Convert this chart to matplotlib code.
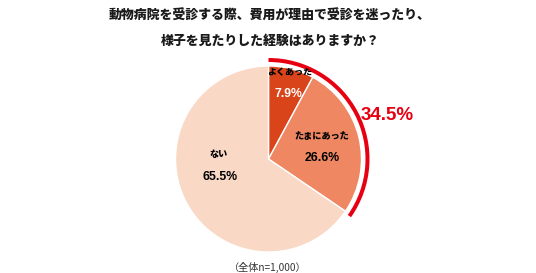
import matplotlib
matplotlib.use("Agg")
import matplotlib.pyplot as plt
from matplotlib.patches import Wedge

categories = ["よくあった", "たまにあった", "ない"]
values = [7.9, 26.6, 65.5]
value_labels = ["7.9%", "26.6%", "65.5%"]
colors = ["#D9441A", "#EE8762", "#FAD8C6"]
highlight_total = 34.5
highlight_label = "34.5%"
title_lines = ["動物病院を受診する際、費用が理由で受診を迷ったり、", "様子を見たりした経験はありますか？"]
footnote = "（全体n=1,000）"

W, H = 536, 273
fig = plt.figure(figsize=(W / 100, H / 100), dpi=100)
ax = fig.add_axes([0, 0, 1, 1])

cx, cy, r = 268.5, H - 159, 93
ax.pie(values, colors=colors, startangle=90, counterclock=False, center=(cx, cy), radius=r,
       wedgeprops=dict(edgecolor="white", linewidth=1.0))
ax.set_xlim(0, W)
ax.set_ylim(0, H)
ax.set_aspect("equal")
ax.axis("off")

# highlight arc
ang = highlight_total / 100 * 360
arc = Wedge((cx, cy), 101, 90 - ang - 1.0, 90, width=4, facecolor="#E60012", edgecolor="none")
ax.add_patch(arc)

jp = ["Noto Sans CJK JP", "DejaVu Sans"]
num = ["Liberation Sans", "DejaVu Sans"]

def px(y):
    return H - y

ax.text(290, px(73), categories[0], ha="center", va="center", family=jp, fontsize=6.5, fontweight="heavy", color="black")
ax.text(288, px(94), value_labels[0], ha="center", va="center", family=num, fontsize=8.8, fontweight="bold", color="white")
ax.text(322, px(137), categories[1], ha="center", va="center", family=jp, fontsize=6.6, fontweight="heavy", color="black")
ax.text(322, px(158), value_labels[1], ha="center", va="center", family=num, fontsize=8.8, fontweight="bold", color="black")
ax.text(219, px(155), categories[2], ha="center", va="center", family=jp, fontsize=6.6, fontweight="heavy", color="black")
ax.text(220, px(177), value_labels[2], ha="center", va="center", family=num, fontsize=8.8, fontweight="bold", color="black")
ax.text(387, px(115), highlight_label, ha="center", va="center", family=num, fontsize=13.5, fontweight="bold", color="#E60012")

ax.text(270, px(16), title_lines[0], ha="center", va="center", family=jp, fontsize=9.3, fontweight="heavy", color="#1a1a1a")
ax.text(270, px(41), title_lines[1], ha="center", va="center", family=jp, fontsize=9.3, fontweight="heavy", color="#1a1a1a")
ax.text(268, px(267), footnote, ha="center", va="center", family=jp, fontsize=7.3, color="#333333")

fig.savefig("out.png", dpi=100, facecolor="white")
